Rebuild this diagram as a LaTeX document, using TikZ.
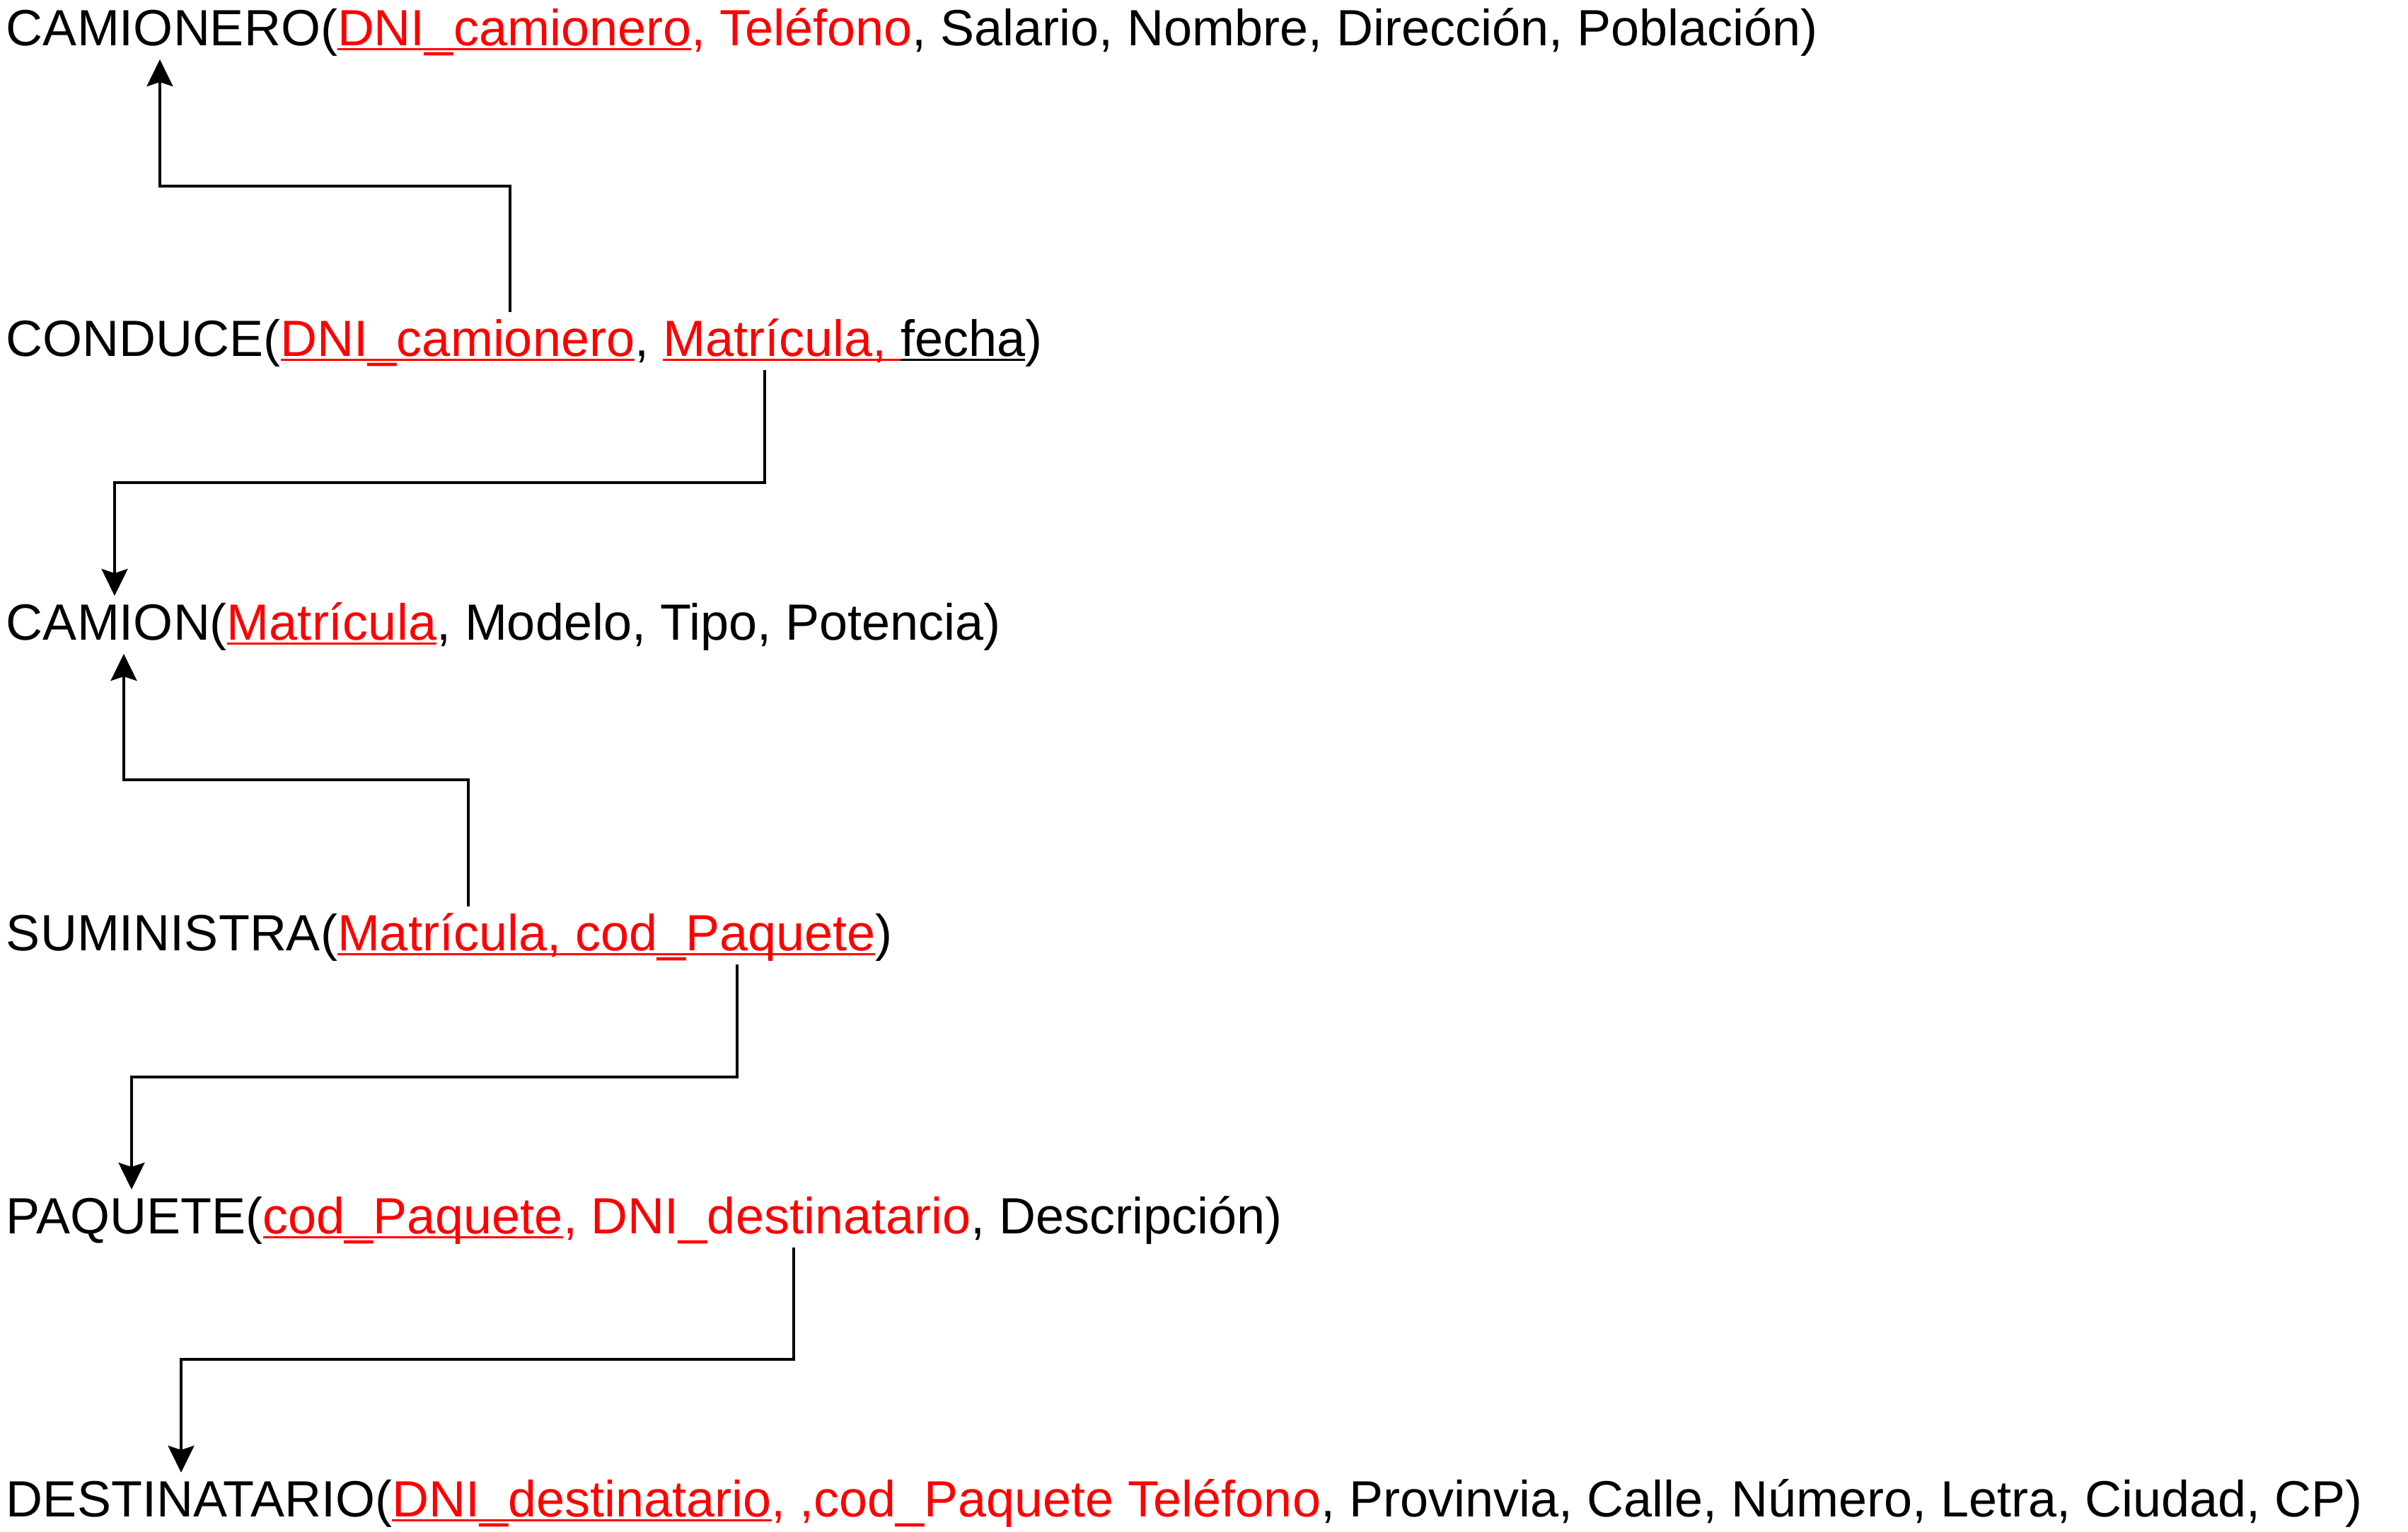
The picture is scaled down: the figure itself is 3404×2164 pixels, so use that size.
\documentclass[tikz,border=0pt]{standalone}
\usepackage{fontspec}
\setmainfont{Liberation Sans}
\usetikzlibrary{arrows.meta}
\definecolor{keyred}{RGB}{255,0,0}
\newcommand\ulin[1]{\setbox0\hbox{#1}\rlap{\rule[-3.5pt]{\wd0}{1.5pt}}\box0}
\begin{document}
\begin{tikzpicture}[x=0.5pt,y=-0.5pt,
  rel/.style={anchor=base west, inner sep=0pt, outer sep=0pt, text height=31pt, text depth=10pt,
    font=\fontsize{36}{43}\selectfont},
  conn/.style={line width=1.8pt, -{Stealth[length=19pt,width=18.5pt,inset=3pt]}}]
\useasboundingbox[fill=white] (0,0) rectangle (3404,2164);

\node[rel] (camionero) at (9,64) {CAMIONERO({\color{keyred}\ulin{DNI\_camionero}, Teléfono}, Salario, Nombre, Dirección, Población)};
\node[rel] (conduce) at (9,503) {CONDUCE({\color{keyred}\ulin{DNI\_camionero}}, {\color{keyred}\ulin{Matrícula, }}\ulin{fecha})};
\node[rel] (camion) at (9,904) {CAMION({\color{keyred}\ulin{Matrícula}}, Modelo, Tipo, Potencia)};
\node[rel] (suministra) at (9,1343) {SUMINISTRA({\color{keyred}\ulin{Matrícula, cod\_Paquete}})};
\node[rel] (paquete) at (9,1743) {PAQUETE({\color{keyred}\ulin{cod\_Paquete}, DNI\_destinatario}, Descripción)};
\node[rel] (destinatario) at (9,2143) {DESTINATARIO({\color{keyred}\ulin{DNI\_destinatario}, ,cod\_Paquete Teléfono}, Provinvia, Calle, Número, Letra, Ciudad, CP)};

\coordinate (s1) at (721,0);  \coordinate (k1) at (226,263);
\coordinate (s2) at (1081,0); \coordinate (k2) at (162,682);
\coordinate (s3) at (662,0);  \coordinate (k3) at (175,1102);
\coordinate (s4) at (1042,0); \coordinate (k4) at (186,1522);
\coordinate (s5) at (1122,0); \coordinate (k5) at (256,1921);

\draw[conn] (conduce.north -| s1) |- (k1) -- (camionero.south -| k1);
\draw[conn] (conduce.south -| s2) |- (k2) -- (camion.north -| k2);
\draw[conn] (suministra.north -| s3) |- (k3) -- (camion.south -| k3);
\draw[conn] (suministra.south -| s4) |- (k4) -- (paquete.north -| k4);
\draw[conn] (paquete.south -| s5) |- (k5) -- (destinatario.north -| k5);
\end{tikzpicture}
\end{document}
